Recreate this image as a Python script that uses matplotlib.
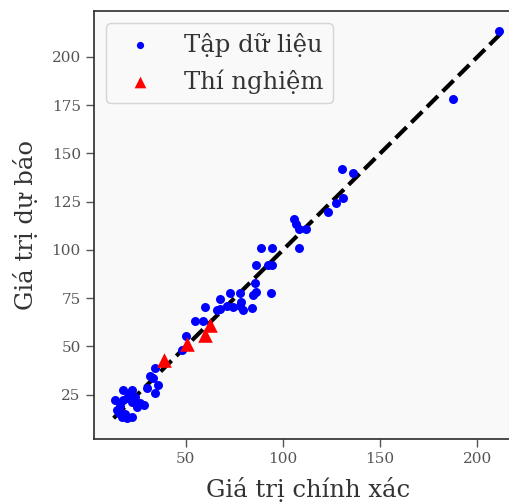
import matplotlib
matplotlib.use("Agg")
from matplotlib import pyplot as plt

# blue points: actual vs predicted values of the data set
data_actual = [13.5, 14.5, 15.5, 16.0, 17.8, 17.5, 19.5, 20.5, 22.1, 23.8, 22.5, 26.4,
               28.4, 24.7, 17.0, 19.5, 22.1, 18.5, 29.8, 31.5, 34.0, 35.8, 34.0, 33.0,
               47.8, 50.3, 54.6, 58.9, 59.8, 65.8, 67.5, 67.5, 71.2, 72.6, 74.3, 77.7,
               77.7, 78.6, 79.5, 83.8, 84.6, 86.0, 85.5, 86.3, 88.9, 92.2, 94.4, 94.5,
               94.0, 105.5, 106.5, 108.2, 112.0, 108.2, 123.1, 127.4, 131.0, 130.5,
               136.0, 187.3, 211.4]
data_pred = [22.3, 17.0, 15.5, 19.0, 27.5, 22.3, 23.5, 26.0, 27.5, 24.0, 21.0, 20.6,
             19.7, 18.8, 13.6, 12.8, 13.6, 15.0, 28.3, 34.7, 38.7, 30.0, 25.7, 33.5,
             48.2, 55.4, 62.9, 62.9, 70.3, 68.9, 74.5, 69.3, 71.0, 77.9, 70.3, 71.0,
             77.6, 73.2, 68.9, 69.8, 76.7, 78.4, 82.7, 92.2, 101.2, 92.2, 101.2, 92.2,
             77.9, 116.0, 113.5, 110.7, 110.7, 101.2, 119.8, 124.2, 126.8, 142.0,
             140.0, 178.2, 213.5]

# red triangles: experiments
exp_actual = [38.9, 50.8, 59.8, 62.3]
exp_pred = [43.0, 51.1, 56.0, 61.1]

label_data = "Tập dữ liệu"
label_exp = "Thí nghiệm"
xlabel = "Giá trị chính xác"
ylabel = "Giá trị dự báo"

plt.rcParams["font.family"] = ["DejaVu Serif"]

fig = plt.figure(figsize=(5.09, 5.03), dpi=100)
ax = fig.add_axes([94 / 509, 64 / 503, 428 / 509, 428 / 503])
ax.set_facecolor("#f9f9f9")

ax.scatter(data_actual, data_pred, c="blue", s=42, linewidths=0, label=label_data, zorder=3)
ax.scatter(exp_actual, exp_pred, c="red", marker="^", s=110, linewidths=0, label=label_exp, zorder=3)

lo = min(data_pred)
hi = max(data_pred)
ax.plot([lo, hi], [lo, hi], "k--", lw=3, zorder=2)

ax.set_xlim(2.7, 223)
ax.set_ylim(2, 223.8)
ax.set_xticks([50, 100, 150, 200])
ax.set_yticks([25, 50, 75, 100, 125, 150, 175, 200])

for s in ax.spines.values():
    s.set_color("#333333")
    s.set_linewidth(1.25)
ax.tick_params(labelsize=11, labelcolor="#555555", color="#555555", length=6, width=1)

ax.set_xlabel(xlabel, fontsize=17.5, color="#333333", labelpad=8)
ax.set_ylabel(ylabel, fontsize=17.5, color="#333333", labelpad=10)

leg = ax.legend(loc="upper left", fontsize=17.5, frameon=True, markerscale=0.8)
leg.get_frame().set_facecolor("#f9f9f9")
leg.get_frame().set_edgecolor("#cccccc")
for t in leg.get_texts():
    t.set_color("#333333")

fig.savefig("out.png", dpi=100)
